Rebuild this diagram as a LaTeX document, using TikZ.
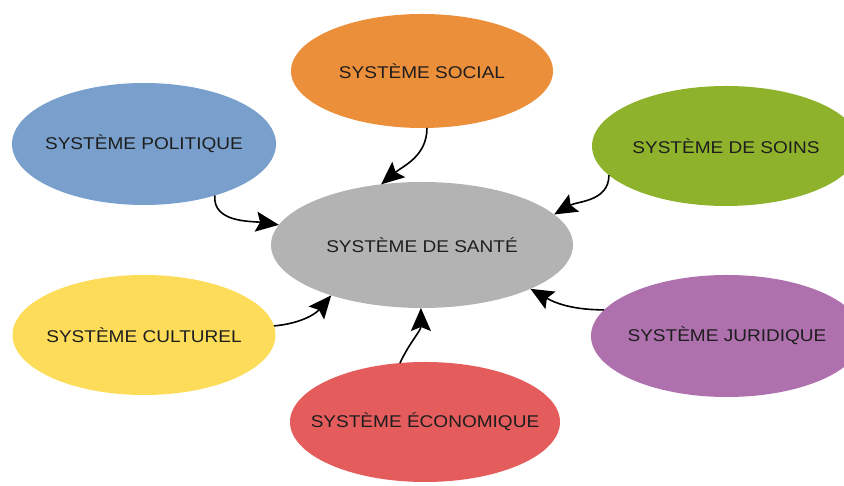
\documentclass[tikz,border=0pt]{standalone}
\usepackage{fontspec}
\setmainfont{Liberation Sans}
\usetikzlibrary{shapes.geometric,arrows.meta}
\definecolor{cgray}{RGB}{179,179,179}
\definecolor{corange}{RGB}{236,143,58}
\definecolor{cblue}{RGB}{121,160,204}
\definecolor{cgreen}{RGB}{143,178,44}
\definecolor{cyellow}{RGB}{252,220,88}
\definecolor{cpurple}{RGB}{175,112,174}
\definecolor{cred}{RGB}{229,92,92}
\definecolor{ctext}{RGB}{30,30,30}
\newcommand{\lbl}[1]{\makebox[0pt]{\scalebox{1.12}[1]{#1}}}
\tikzset{
  sysbox/.style={ellipse, inner sep=0pt, outer sep=0pt, text=ctext,
    font=\fontsize{17}{20}\selectfont},
  link/.style={line width=1.6pt, -{Stealth[length=23pt,width=20pt,inset=4pt]}}
}
\begin{document}
\begin{tikzpicture}[x=1pt,y=1pt]
\path[use as bounding box] (0,0) rectangle (844,486);
\node[sysbox, fill=cgray, minimum width=302pt, minimum height=126pt] (san) at (422,241) {\lbl{SYSTÈME DE SANTÉ}};
\node[sysbox, fill=corange, minimum width=262pt, minimum height=114pt] (soc) at (422,415) {\lbl{SYSTÈME SOCIAL}};
\node[sysbox, fill=cblue, minimum width=264pt, minimum height=122pt] (pol) at (144,342) {\lbl{SYSTÈME POLITIQUE}};
\node[sysbox, fill=cgreen, minimum width=268pt, minimum height=120pt] (soi) at (726,340) {\lbl{SYSTÈME DE SOINS}};
\node[sysbox, fill=cyellow, minimum width=263pt, minimum height=120pt] (cul) at (144,151) {\lbl{SYSTÈME CULTUREL}};
\node[sysbox, fill=cpurple, minimum width=272pt, minimum height=122pt] (jur) at (727,150) {\lbl{SYSTÈME JURIDIQUE}};
\node[sysbox, fill=cred, minimum width=270pt, minimum height=120pt] (eco) at (425,64) {\lbl{SYSTÈME ÉCONOMIQUE}};
\draw[link] (soc.-85) to[out=-90,in=40] (san.124);
\draw[link] (pol.-36) to[out=-95,in=172] (san.172);
\draw[link] (soi.194) to[out=-90,in=30] (san.13);
\draw[link] (cul.4) to[out=5,in=-130] (san.-151);
\draw[link] (jur.168) to[out=180,in=-30] (san.-22);
\draw[link] (eco.113) to[out=65,in=-90] (san.-91);
\end{tikzpicture}
\end{document}
